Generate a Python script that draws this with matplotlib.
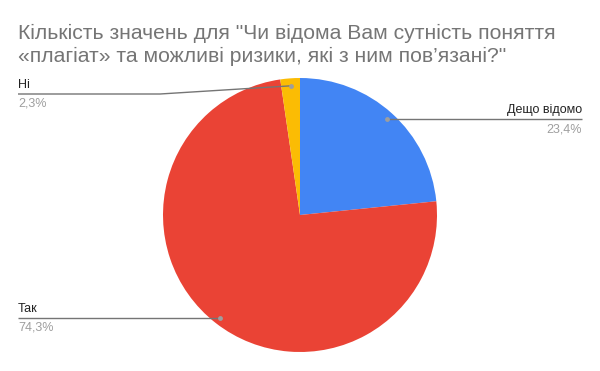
import numpy as np
import matplotlib.pyplot as plt

plt.rcParams['font.family'] = ['Liberation Sans', 'DejaVu Sans']

# data
labels = ['Дещо відомо', 'Так', 'Ні']
values = [23.4, 74.3, 2.3]
pct_labels = ['23,4%', '74,3%', '2,3%']
colors = ['#4285F4', '#EA4335', '#FBBC04']
title = 'Кількість значень для "Чи відома Вам сутність поняття\n«плагіат» та можливі ризики, які з ним пов’язані?"'

W, H = 600, 371
fig = plt.figure(figsize=(W / 100, H / 100), dpi=100)
ax = fig.add_axes([0, 0, 1, 1])

cx, cy, r = 300, H - 215, 137
wedges, _ = ax.pie(values, colors=colors, startangle=90, counterclock=False,
                   center=(cx, cy), radius=r, frame=True,
                   wedgeprops=dict(linewidth=0))
ax.set_xlim(0, W)
ax.set_ylim(0, H)
ax.set_aspect('equal')
ax.axis('off')

fig.text(18 / W, 1 - 24 / H, title, ha='left', va='top', fontsize=15.2,
         color='#757575', linespacing=1.25)

# leader line layout in pixels
leaders = {
    'Дещо відомо': dict(end=582, y=119, elbow=None, side='right'),
    'Так': dict(end=18, y=318, elbow=None, side='left'),
    'Ні': dict(end=18, y=94, elbow=160, side='left'),
}

cum = 0
for lab, v, pl in zip(labels, values, pct_labels):
    mid = (cum + v / 2) / sum(values) * 2 * np.pi
    cum += v
    rr = r - 7.5
    px = cx + rr * np.sin(mid)
    py = cy + rr * np.cos(mid)
    ld = leaders[lab]
    ly = H - ld['y']
    if ld['elbow'] is not None:
        xs = [px, ld['elbow'], ld['end']]
        ys = [py, ly, ly]
    else:
        xs = [px, ld['end']]
        ys = [ly, ly]
        py = ly
    ax.plot(xs, ys, color='#757575', lw=1, solid_capstyle='butt')
    ax.plot([px], [py], 'o', color='#9e9e9e', ms=3.5, mec='none')
    ha = 'right' if ld['side'] == 'right' else 'left'
    ax.text(ld['end'], ly + 3, lab, ha=ha, va='bottom', fontsize=9, color='#222222')
    ax.text(ld['end'], ly - 4, pl, ha=ha, va='top', fontsize=9, color='#9e9e9e')

fig.savefig('out.png', dpi=100, facecolor='white')
